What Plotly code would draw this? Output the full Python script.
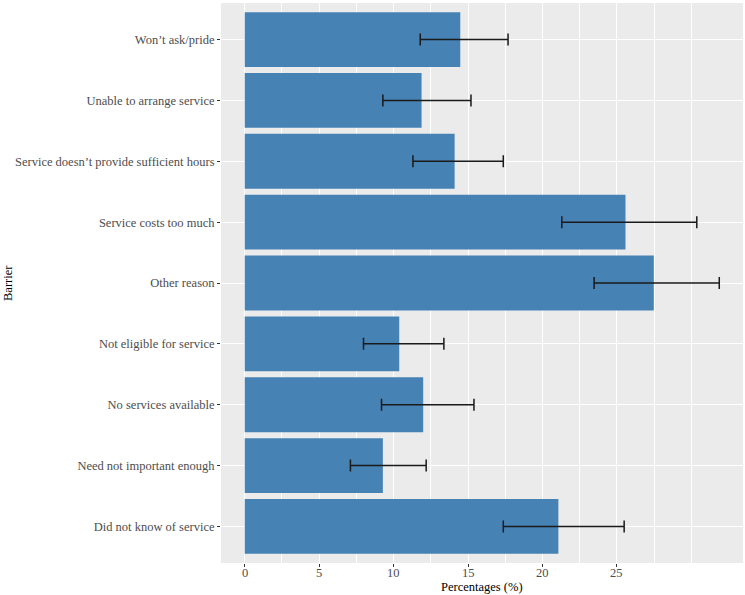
import plotly.graph_objects as go

barriers = [
    "Did not know of service",
    "Need not important enough",
    "No services available",
    "Not eligible for service",
    "Other reason",
    "Service costs too much",
    "Service doesn\u2019t provide sufficient hours",
    "Unable to arrange service",
    "Won\u2019t ask/pride",
]
percentages = [21.07, 9.28, 11.99, 10.38, 27.48, 25.58, 14.10, 11.88, 14.48]
lower_ci = [17.37, 7.10, 9.19, 7.98, 23.47, 21.30, 11.30, 9.28, 11.79]
upper_ci = [25.49, 12.19, 15.40, 13.38, 31.88, 30.37, 17.37, 15.20, 17.69]

x_tick_vals = [0, 5, 10, 15, 20, 25]
x_tick_text = ["0", "5", "10", "15", "20", "25"]
x_minor_vals = [2.5, 7.5, 12.5, 17.5, 22.5, 27.5, 30]

err_plus = [u - p for u, p in zip(upper_ci, percentages)]
err_minus = [p - l for p, l in zip(percentages, lower_ci)]

FONT = "Liberation Serif"
FS = 12.5

fig = go.Figure()
fig.add_trace(go.Bar(
    y=barriers,
    x=percentages,
    orientation="h",
    width=0.9,
    marker=dict(color="#4682B4", line=dict(width=0)),
    error_x=dict(
        type="data",
        symmetric=False,
        array=err_plus,
        arrayminus=err_minus,
        color="#1a1a1a",
        thickness=1.5,
        width=6,
    ),
))

xmax = max(upper_ci)
pad = 0.05 * xmax

fig.update_layout(
    width=745,
    height=595,
    margin=dict(l=221, r=2, t=3, b=32, autoexpand=False),
    paper_bgcolor="white",
    plot_bgcolor="#EBEBEB",
    showlegend=False,
    font=dict(family=FONT, size=FS, color="#4D4D4D"),
    bargap=0.1,
)
fig.update_xaxes(
    range=[-pad, xmax + pad],
    tickvals=x_tick_vals,
    ticktext=x_tick_text,
    showticklabels=False,
    showgrid=True,
    gridcolor="white",
    gridwidth=1.1,
    zeroline=False,
    ticks="outside",
    ticklen=3,
    tickcolor="#333333",
    tickwidth=1,
    minor=dict(tickvals=x_minor_vals, showgrid=True, gridcolor="white", gridwidth=0.6, ticks=""),
    automargin=False,
    showline=False,
)
fig.update_yaxes(
    range=[-0.6, len(barriers) - 0.4],
    showgrid=True,
    gridcolor="white",
    gridwidth=1.1,
    zeroline=False,
    ticks="outside",
    ticklen=3,
    tickcolor="#333333",
    tickwidth=1,
    tickfont=dict(family=FONT, size=FS, color="#4D4D4D"),
    automargin=False,
    showline=False,
)
for v, t in zip(x_tick_vals, x_tick_text):
    fig.add_annotation(
        text=t, xref="x", yref="paper", x=v, y=0, yshift=-10,
        xanchor="center", yanchor="middle", showarrow=False,
        font=dict(family=FONT, size=FS, color="#4D4D4D"),
    )
fig.add_annotation(
    text="Percentages (%)", xref="paper", yref="paper", x=0.5, y=0,
    yshift=-24, xanchor="center", yanchor="middle", showarrow=False,
    font=dict(family=FONT, size=FS, color="black"),
)
fig.add_annotation(
    text="Barrier", xref="paper", yref="paper", x=0, y=0.5,
    xshift=-213, xanchor="center", yanchor="middle", showarrow=False, textangle=-90,
    font=dict(family=FONT, size=FS, color="black"),
)

fig.write_html(
    "out.html",
    config={"displayModeBar": False},
    post_script="document.body.style.margin='0';document.body.style.overflow='hidden';",
)
